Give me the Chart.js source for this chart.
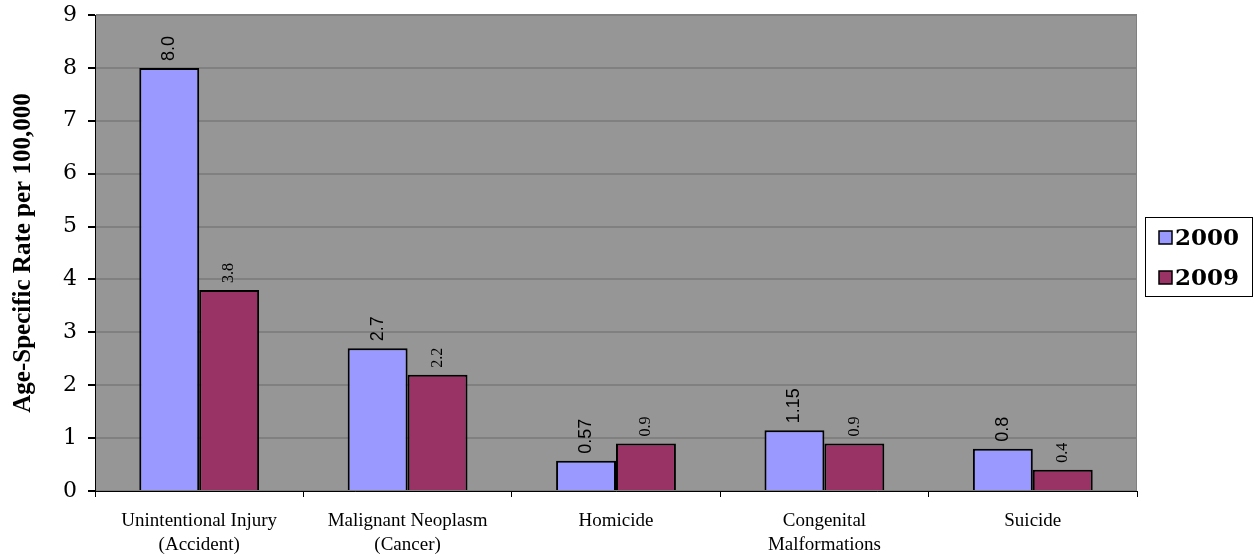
<!DOCTYPE html>
<html><head><meta charset="utf-8">
<script src="https://cdn.jsdelivr.net/npm/chart.js@4/dist/chart.umd.min.js"></script>
<style>html,body{margin:0;padding:0;background:#fff;}canvas{display:block;}</style>
</head><body>
<canvas id="c" width="1258" height="557"></canvas>
<script>
const categories = [["Unintentional Injury","(Accident)"],["Malignant Neoplasm","(Cancer)"],["Homicide"],["Congenital","Malformations"],["Suicide"]];
const seriesNames = ["2000","2009"];
const values2000 = [8.0, 2.7, 0.57, 1.15, 0.8];
const values2009 = [3.8, 2.2, 0.9, 0.9, 0.4];
const labels2000 = ["8.0","2.7","0.57","1.15","0.8"];
const labels2009 = ["3.8","2.2","0.9","0.9","0.4"];
const yTitle = "Age-Specific Rate per 100,000";
const SERIF = '"Liberation Serif", "Times New Roman", serif';
const DSERIF = '"DejaVu Serif", serif';

const plotBg = {
  id:'plotBg',
  beforeDraw(chart){
    const {ctx, chartArea:a} = chart;
    ctx.save();
    ctx.fillStyle = '#969696';
    ctx.fillRect(a.left, a.top, a.right-a.left, a.bottom-a.top);
    ctx.strokeStyle = '#808080'; ctx.lineWidth = 1;
    ctx.strokeRect(a.left+0.5, a.top+0.5, a.right-a.left-1, a.bottom-a.top);
    ctx.restore();
  }
};
const dataLabels = {
  id:'dataLabels',
  afterDatasetsDraw(chart){
    const ctx = chart.ctx;
    const sets = [{lab:labels2000, font:'18px "Liberation Sans", Arial, sans-serif'},{lab:labels2009, font:'16px '+SERIF}];
    sets.forEach((s,di)=>{
      const meta = chart.getDatasetMeta(di);
      meta.data.forEach((bar,i)=>{
        ctx.save();
        ctx.translate(bar.x, bar.y-7);
        ctx.rotate(-Math.PI/2);
        ctx.font = s.font; ctx.fillStyle = '#000';
        ctx.textAlign = 'left'; ctx.textBaseline = 'middle';
        ctx.fillText(s.lab[i], 0, 0);
        ctx.restore();
      });
    });
  }
};
const legendBox = {
  id:'legendBox',
  afterDraw(chart){
    const ctx = chart.ctx;
    ctx.save();
    ctx.fillStyle = '#fff'; ctx.fillRect(1145, 217, 108, 80);
    ctx.strokeStyle = '#000'; ctx.lineWidth = 1; ctx.strokeRect(1145.5, 217.5, 107, 79);
    chart.data.datasets.forEach((ds,i)=>{
      const y = 238 + i*40;
      ctx.fillStyle = ds.backgroundColor; ctx.fillRect(1159, y-7, 13, 13);
      ctx.strokeStyle = '#000'; ctx.lineWidth = 1.5; ctx.strokeRect(1159, y-7, 13, 13);
      ctx.fillStyle = '#000'; ctx.font = 'bold 23px '+DSERIF;
      ctx.textBaseline = 'middle'; ctx.textAlign = 'left';
      ctx.fillText(ds.label, 1175, y+1);
    });
    ctx.restore();
  }
};

new Chart(document.getElementById('c'), {
  type:'bar',
  data:{
    labels: categories,
    datasets:[
      {label:seriesNames[0], data:values2000, backgroundColor:'#9999FF', borderColor:'#000', borderWidth:2},
      {label:seriesNames[1], data:values2009, backgroundColor:'#993366', borderColor:'#000', borderWidth:2}
    ]
  },
  options:{
    responsive:false, animation:false,
    layout:{padding:{left:0, right:121, top:15, bottom:0}},
    datasets:{bar:{barPercentage:1.0, categoryPercentage:0.575}},
    plugins:{legend:{display:false}, tooltip:{enabled:false}},
    scales:{
      y:{
        min:0, max:9,
        ticks:{stepSize:1, color:'#000', font:{family:DSERIF, size:22, lineHeight:1}, padding:11},
        grid:{color:'#808080', lineWidth:2, drawTicks:true, tickLength:7, tickColor:'#000'},
        border:{color:'#000', width:1},
        title:{display:true, text:yTitle, color:'#000', font:{family:SERIF, size:25, weight:'bold'}, padding:{top:9,bottom:4}},
        afterFit(s){ s.width = 95; s.paddingTop = 0; s.paddingBottom = 0; }
      },
      x:{
        ticks:{color:'#000', font:{family:SERIF, size:19, lineHeight:1.25}, padding:12, maxRotation:0, autoSkip:false},
        grid:{offset:true, drawOnChartArea:false, drawTicks:true, tickLength:6, tickColor:'#000'},
        border:{color:'#000', width:1},
        afterFit(s){ s.height = 66; }
      }
    }
  },
  plugins:[plotBg, dataLabels, legendBox]
});
</script>
</body></html>
